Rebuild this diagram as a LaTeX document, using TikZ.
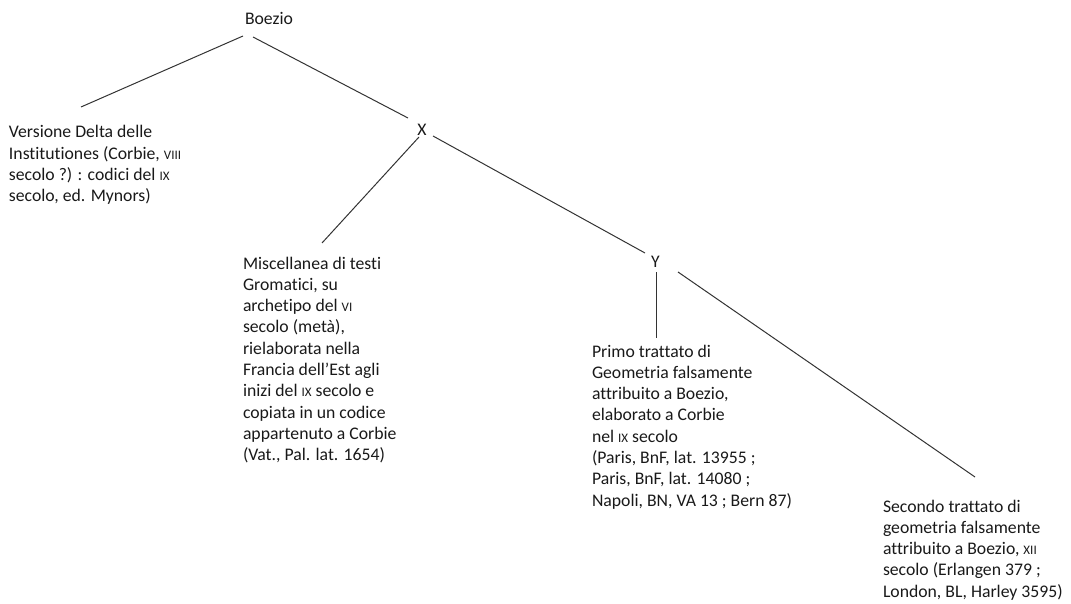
\documentclass[tikz,border=0pt]{standalone}
\usepackage{fontspec}
\setmainfont{Carlito}[Ligatures={NoCommon,NoRare,NoDiscretionary}]
\usetikzlibrary{calc}
\newcommand\rn[1]{{\fontsize{13pt}{0pt}\selectfont #1}}
\newcommand\fl{\rule{0pt}{14pt}}
\begin{document}
\begin{tikzpicture}[x=1pt,y=-1pt,
  lbl/.style={inner sep=0pt,outer sep=0pt,font=\fontsize{17.7pt}{21.3pt}\selectfont,text=black!90},
  blockt/.style={lbl,anchor=north west,align=left},
  conn/.style={draw=black!80,line width=1pt}]
\useasboundingbox (0,0) rectangle (1071,604);
\node[lbl,anchor=base west] (boezio) at (245,25) {Boezio};
\node[lbl,anchor=base] (X) at (422,135.5) {X};
\node[lbl,anchor=base] (Y) at (655.5,267) {Y};
\node[blockt] (versione) at (9,124) {\fl Versione Delta delle\\Institutiones (Corbie, \rn{VIII}\\secolo ?) : codici del \rn{IX}\\secolo, ed. Mynors)};
\node[blockt] (misc) at (243,255) {\fl Miscellanea di testi\\Gromatici, su\\archetipo del \rn{VI}\\secolo (metà),\\rielaborata nella\\Francia dell’Est agli\\inizi del \rn{IX} secolo e\\copiata in un codice\\appartenuto a Corbie\\(Vat., Pal. lat. 1654)};
\node[blockt] (primo) at (592,343) {\fl Primo trattato di\\Geometria falsamente\\attribuito a Boezio,\\elaborato a Corbie\\nel \rn{IX} secolo\\(Paris, BnF, lat. 13955 ;\\Paris, BnF, lat. 14080 ;\\Napoli, BN, VA 13 ; Bern 87)};
\node[blockt] (secondo) at (883,498) {\fl Secondo trattato di\\geometria falsamente\\attribuito a Boezio, \rn{XII}\\secolo (Erlangen 379 ;\\London, BL, Harley 3595)};
\draw[conn] ($(boezio.base west)+(-2,11)$) -- ($(versione.north west)+(72,-17)$);
\draw[conn] ($(boezio.base west)+(8,12)$) -- ($(X.base)+(-14,-17.5)$);
\draw[conn] ($(X.base)+(-3,1.5)$) -- ($(misc.north west)+(79,-12)$);
\draw[conn] ($(X.base)+(11,0.5)$) -- ($(Y.base)+(-10.5,-14)$);
\draw[conn] ($(Y.base)+(0.5,5)$) -- ($(primo.north west)+(64,-5)$);
\draw[conn] ($(Y.base)+(22.5,5)$) -- ($(secondo.north west)+(92,-21)$);
\end{tikzpicture}
\end{document}
